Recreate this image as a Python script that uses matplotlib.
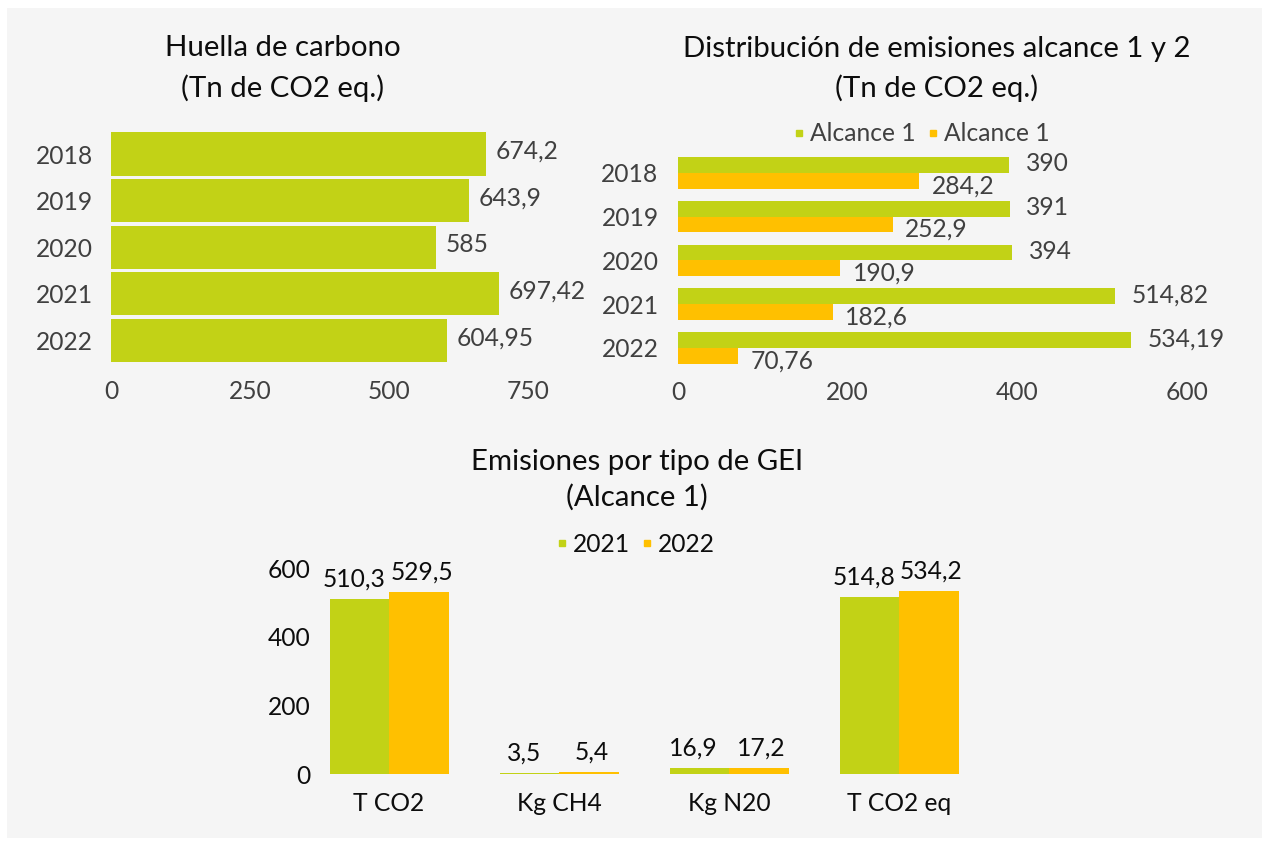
import matplotlib
matplotlib.use("Agg")
import matplotlib.pyplot as plt
from matplotlib.lines import Line2D
from matplotlib.patches import Rectangle
import numpy as np

plt.rcParams['font.family'] = ['Lato', 'DejaVu Sans']

# ---- data ----
years = ["2018", "2019", "2020", "2021", "2022"]
huella = [674.2, 643.9, 585, 697.42, 604.95]
huella_lbl = ["674,2", "643,9", "585", "697,42", "604,95"]

alc1 = [390, 391, 394, 514.82, 534.19]
alc1_lbl = ["390", "391", "394", "514,82", "534,19"]
alc2 = [284.2, 252.9, 190.9, 182.6, 70.76]
alc2_lbl = ["284,2", "252,9", "190,9", "182,6", "70,76"]

gei_cats = ["T CO2", "Kg CH4", "Kg N20", "T CO2 eq"]
gei_2021 = [510.3, 3.5, 16.9, 514.8]
gei_2022 = [529.5, 5.4, 17.2, 534.2]
gei_2021_lbl = ["510,3", "3,5", "16,9", "514,8"]
gei_2022_lbl = ["529,5", "5,4", "17,2", "534,2"]

GREEN = "#c2d216"
ORANGE = "#ffc000"
GRAY = "#404040"
BLACK = "#0d0d0d"

W, H = 1269, 843
fig = plt.figure(figsize=(W / 100, H / 100), dpi=100)
fig.patch.set_facecolor("white")
fig.add_artist(Rectangle((7 / W, 1 - 838 / H), (1262 - 7) / W, (838 - 8) / H,
                         transform=fig.transFigure, facecolor="#f5f5f5",
                         edgecolor="none", zorder=0))


def px_axes(x0, y0, x1, y1):
    return fig.add_axes([x0 / W, 1 - y1 / H, (x1 - x0) / W, (y1 - y0) / H])


def clean(ax):
    ax.set_facecolor("none")
    for s in ax.spines.values():
        s.set_visible(False)
    ax.tick_params(length=0)


FS = 17.7
TFS = 21.2

# ---- chart 1 ----
ax1 = px_axes(111, 130.7, 528, 363.7)
clean(ax1)
y = np.arange(len(years))
ax1.barh(y, huella, height=0.93, color=GREEN)
ax1.set_xlim(0, 750)
ax1.set_ylim(4.5, -0.5)
ax1.set_yticks(y, years)
ax1.set_xticks([0, 250, 500, 750])
ax1.tick_params(axis="y", pad=13, labelsize=FS, labelcolor=GRAY)
ax1.tick_params(axis="x", pad=12, labelsize=FS, labelcolor=GRAY)
for i, (v, t) in enumerate(zip(huella, huella_lbl)):
    ax1.annotate(t, (v, i), xytext=(7, 2), textcoords="offset points",
                 ha="left", va="center", fontsize=FS, color=GRAY,
                 annotation_clip=False)
fig.text(283 / W, 1 - 48.5 / H, "Huella de carbono", ha="center", va="center",
         fontsize=TFS, color=BLACK)
fig.text(283 / W, 1 - 88.5 / H, "(Tn de CO2 eq.)", ha="center", va="center",
         fontsize=TFS, color=BLACK)

# ---- chart 2 ----
ax2 = px_axes(678, 151, 1187, 369.75)
clean(ax2)
bh = 0.36
ax2.barh(y - bh / 2, alc1, height=bh, color=GREEN)
ax2.barh(y + bh / 2, alc2, height=bh, color=ORANGE)
ax2.set_xlim(0, 600)
ax2.set_ylim(4.5, -0.5)
ax2.set_yticks(y, years)
ax2.set_xticks([0, 200, 400, 600])
ax2.tick_params(axis="y", pad=14, labelsize=FS, labelcolor=GRAY)
ax2.tick_params(axis="x", pad=8, labelsize=FS, labelcolor=GRAY)
for i in range(len(years)):
    ax2.annotate(alc1_lbl[i], (alc1[i], i - bh / 2), xytext=(12, 1),
                 textcoords="offset points", ha="left", va="center",
                 fontsize=FS, color=GRAY, annotation_clip=False)
    ax2.annotate(alc2_lbl[i], (alc2[i], i + bh / 2), xytext=(9, -3.5),
                 textcoords="offset points", ha="left", va="center",
                 fontsize=FS, color=GRAY, annotation_clip=False)
fig.text(937 / W, 1 - 48.5 / H, "Distribución de emisiones alcance 1 y 2",
         ha="center", va="center", fontsize=TFS, color=BLACK)
fig.text(937 / W, 1 - 88.5 / H, "(Tn de CO2 eq.)", ha="center", va="center",
         fontsize=TFS, color=BLACK)
h2 = [Line2D([], [], marker="s", ls="none", color=GREEN, markersize=4.5),
      Line2D([], [], marker="s", ls="none", color=ORANGE, markersize=4.5)]
fig.legend(h2, ["Alcance 1", "Alcance 1"], loc="center",
           bbox_to_anchor=(922 / W, 1 - 134 / H), ncol=2, frameon=False,
           fontsize=FS, labelcolor=GRAY, handlelength=0.4, handletextpad=0.25,
           columnspacing=0.5, borderpad=0, borderaxespad=0)

# ---- chart 3 ----
ax3 = px_axes(304, 568, 984, 774)
clean(ax3)
x = np.arange(len(gei_cats))
bw = 0.35
ax3.bar(x - bw / 2, gei_2021, width=bw, color=GREEN)
ax3.bar(x + bw / 2, gei_2022, width=bw, color=ORANGE)
ax3.set_xlim(-0.5, 3.5)
ax3.set_ylim(0, 600)
ax3.set_yticks([0, 200, 400, 600])
ax3.set_xticks(x, gei_cats)
ax3.tick_params(axis="y", pad=-5, labelsize=FS, labelcolor=BLACK)
ax3.tick_params(axis="x", pad=13, labelsize=FS, labelcolor=BLACK)
for i in range(len(gei_cats)):
    ax3.annotate(gei_2021_lbl[i], (x[i] - bw / 2, gei_2021[i]), xytext=(-4, 6),
                 textcoords="offset points", ha="center", va="bottom",
                 fontsize=FS, color=BLACK, annotation_clip=False)
    ax3.annotate(gei_2022_lbl[i], (x[i] + bw / 2, gei_2022[i]), xytext=(2, 6),
                 textcoords="offset points", ha="center", va="bottom",
                 fontsize=FS, color=BLACK, annotation_clip=False)
fig.text(637 / W, 1 - 462.5 / H, "Emisiones por tipo de GEI", ha="center",
         va="center", fontsize=TFS, color=BLACK)
fig.text(637 / W, 1 - 497.5 / H, "(Alcance 1)", ha="center", va="center",
         fontsize=TFS, color=BLACK)
h3 = [Line2D([], [], marker="s", ls="none", color=GREEN, markersize=4.5),
      Line2D([], [], marker="s", ls="none", color=ORANGE, markersize=4.5)]
fig.legend(h3, ["2021", "2022"], loc="center",
           bbox_to_anchor=(636 / W, 1 - 544 / H), ncol=2, frameon=False,
           fontsize=FS, labelcolor=BLACK, handlelength=0.4, handletextpad=0.25,
           columnspacing=0.5, borderpad=0, borderaxespad=0)

fig.savefig("out.png", dpi=100, facecolor=fig.get_facecolor())
